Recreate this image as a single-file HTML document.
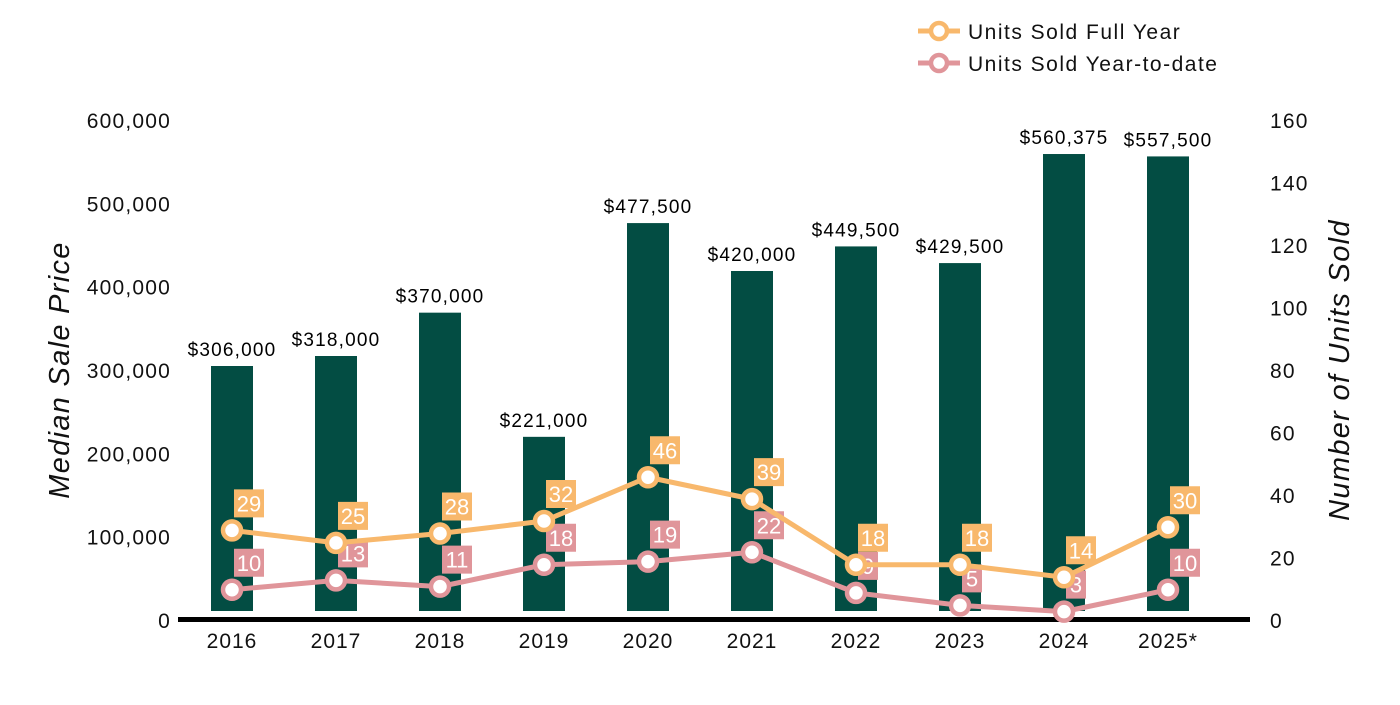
<!DOCTYPE html>
<html><head><meta charset="utf-8"><style>
body{margin:0;background:#fff;}
svg text{font-family:"Liberation Sans",Arial,sans-serif;}
</style></head><body>
<svg width="1400" height="700" viewBox="0 0 1400 700">
<g id="g"></g>
</svg>
<script>
const categories=["2016","2017","2018","2019","2020","2021","2022","2023","2024","2025*"];
const prices=[306000,318000,370000,221000,477500,420000,449500,429500,560375,557500];
const priceLabels=["$306,000","$318,000","$370,000","$221,000","$477,500","$420,000","$449,500","$429,500","$560,375","$557,500"];
const fullYear=[29,25,28,32,46,39,18,18,14,30];
const ytd=[10,13,11,18,19,22,9,5,3,10];
const leftTicks=[0,100000,200000,300000,400000,500000,600000];
const rightTicks=[0,20,40,60,80,100,120,140,160];

const NS="http://www.w3.org/2000/svg";
const g=document.getElementById('g');
const baseY=621, topY=121;
const yL=v=>baseY-v*(baseY-topY)/600000;
const yR=v=>baseY-v*(baseY-topY)/160;
const xC=i=>232+i*104;
function el(t,a,txt){const e=document.createElementNS(NS,t);for(const k in a)e.setAttribute(k,a[k]);if(txt!==undefined)e.textContent=txt;g.appendChild(e);return e;}

leftTicks.forEach(v=>{const t=el('text',{x:171,y:yL(v)+7,'text-anchor':'end','font-size':21,'letter-spacing':1.2,fill:'#111'},v.toLocaleString('en-US'));

});
rightTicks.forEach(v=>{const t=el('text',{x:1270,y:yR(v)+7,'font-size':21,'letter-spacing':1.2,fill:'#111'},String(v));

});
let t=el('text',{x:0,y:0,transform:'translate(69,370) rotate(-90)','text-anchor':'middle','font-size':29,'letter-spacing':1.3,'font-style':'italic',fill:'#111'},'Median Sale Price');


t=el('text',{x:0,y:0,transform:'translate(1349,370) rotate(-90)','text-anchor':'middle','font-size':29,'letter-spacing':1.3,'font-style':'italic',fill:'#111'},'Number of Units Sold');



prices.forEach((v,i)=>{const r=el('rect',{x:xC(i)-21,y:yL(v),width:42,height:611-yL(v),fill:'#034d43'});


const l=el('text',{x:xC(i),y:yL(v)-10,'text-anchor':'middle','font-size':19,'letter-spacing':1.2,fill:'#000'},priceLabels[i]);

});

let ax=el('rect',{x:178,y:617,width:1072,height:5,fill:'#000'});


categories.forEach((c,i)=>{const l=el('text',{x:xC(i),y:648,'text-anchor':'middle','font-size':21,'letter-spacing':1,fill:'#111'},c);

});

function series(vals,color,name){
 const pl=el('polyline',{points:vals.map((v,i)=>xC(i)+','+yR(v)).join(' '),fill:'none',stroke:color,'stroke-width':5,'stroke-linejoin':'round'});
 
 
 vals.forEach((v,i)=>{const c=el('circle',{cx:xC(i),cy:yR(v),r:9,fill:'#fff',stroke:color,'stroke-width':4.5});
 
 });
 vals.forEach((v,i)=>{const s=String(v);const w=s.length>1?30:20;
 const r=el('rect',{x:xC(i)+2,y:yR(v)-41,width:w,height:28,fill:color});
 
 
 const l=el('text',{x:xC(i)+2+w/2,y:yR(v)-19,'text-anchor':'middle','font-size':22,fill:'#fff'},s);
 
 });
}
series(ytd,'#e0959a','ytd');
series(fullYear,'#f8b86c','full-year');

[['#f8b86c','Units Sold Full Year',31],['#e0959a','Units Sold Year-to-date',63]].forEach(([c,txt,y])=>{
 const ln=el('line',{x1:918,y1:y,x2:960,y2:y,stroke:c,'stroke-width':5});
 
 
 const ci=el('circle',{cx:939,cy:y,r:8,fill:'#fff',stroke:c,'stroke-width':4.5});
 
 
 const l=el('text',{x:968,y:y+8,'font-size':21,'letter-spacing':1.5,fill:'#111'},txt);
 
 
});
</script>
</body></html>
